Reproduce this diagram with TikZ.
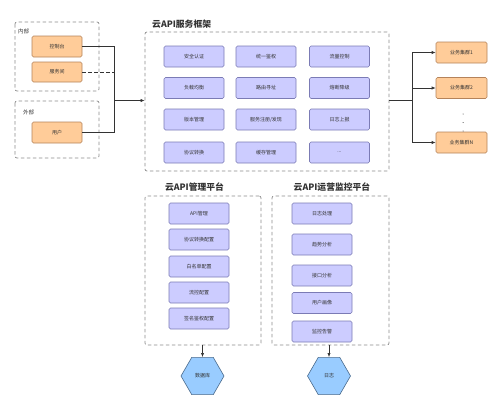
\documentclass[tikz,border=0pt]{standalone}
\usepackage{fontspec}
\setmainfont{Noto Sans CJK SC}
\usetikzlibrary{arrows.meta,shapes.geometric}
\definecolor{orfill}{HTML}{FFCC99}
\definecolor{ordraw}{HTML}{B5835A}
\definecolor{pufill}{HTML}{CCCCFF}
\definecolor{pudraw}{HTML}{7B7BB5}
\definecolor{hxfill}{HTML}{99CCFF}
\definecolor{hxdraw}{HTML}{4A6A8C}
\definecolor{grp}{HTML}{8C8C8C}
\definecolor{txt}{HTML}{333333}
\newcommand\mydotstext{...}
\begin{document}
\begin{tikzpicture}[x=1pt,y=-1pt,
  orbox/.style={draw=ordraw,fill=orfill,rounded corners=1.5pt,line width=0.6pt,minimum width=50pt,minimum height=21pt,inner sep=0pt,font=\fontsize{5}{6}\selectfont,text=txt},
  pubox/.style={draw=pudraw,fill=pufill,rounded corners=1.5pt,line width=0.6pt,minimum width=60pt,minimum height=21pt,inner sep=0pt,font=\fontsize{5}{6}\selectfont,text=txt},
  hexa/.style={regular polygon,regular polygon sides=6,draw=hxdraw,fill=hxfill,line width=0.6pt,minimum size=43pt,inner sep=0pt,font=\fontsize{5}{6}\selectfont,text=txt},
  grpbox/.style={draw=grp,dashed,dash pattern=on 3.5pt off 2.5pt,rounded corners=2pt,line width=0.7pt},
  grplabel/.style={font=\fontsize{5.5}{6.5}\selectfont,text=txt,inner sep=0pt},
  title/.style={font=\fontsize{8.8}{10}\selectfont\bfseries,text=txt,inner sep=0pt},
  conn/.style={draw=txt,line width=0.6pt},
  arr/.style={conn,-{Latex[length=4pt,width=3.2pt]}}
]
\useasboundingbox (0,0) rectangle (500,407);
% left groups
\draw[grpbox] (15,22) rectangle (99,91);
\node[grplabel,anchor=west] (lin) at (18,31) {内部};
\draw[grpbox] (15,101) rectangle (99,158);
\node[grplabel,anchor=west] (lout) at (23,112) {外部};
\node[orbox] (kzt) at (57,46.5) {控制台};
\node[orbox,minimum height=20pt] (fwj) at (57,72) {服务间};
\node[orbox] (yh) at (57,132.5) {用户};
% main framework
\node[title,anchor=west] (t1) at (152,24) {云API服务框架};
\node[grpbox,minimum width=244pt,minimum height=139pt,inner sep=0pt] (fw) at (267,101.5) {};
\foreach \n/\t/\x/\y in {a1/安全认证/194/56.5, a2/统一鉴权/266/56.5, a3/流量控制/339.5/56.5,
  b1/负载均衡/194/88, b2/路由寻址/266/88, b3/熔断降级/339.5/88,
  c1/版本管理/194/119.5, c2/服务注册\slash 发现/266/119.5, c3/日志上报/339.5/119.5,
  d1/协议转换/194/152.5, d2/缓存管理/266/152.5, d3/\mydotstext/339.5/152.5}
  \node[pubox] (\n) at (\x,\y) {\t};
% right clusters
\node[orbox,minimum width=51pt] (s1) at (461.5,52.5) {业务集群1};
\node[orbox,minimum width=51pt] (s2) at (461.5,88) {业务集群2};
\node[orbox,minimum width=51pt] (sn) at (461.5,142.5) {业务集群N};
\fill[txt] (463,114) circle (0.5pt) (463,122.5) circle (0.5pt) (463,131) circle (0.5pt);
% management platform
\node[title] (t2) at (194.5,187) {云API管理平台};
\node[grpbox,minimum width=116pt,minimum height=149pt,inner sep=0pt] (mg) at (203,270.5) {};
\foreach \n/\t/\y in {m1/API管理/213.5, m2/协议转换配置/239.5, m3/白名单配置/266.5, m4/流控配置/292.5, m5/签名鉴权配置/318.5}
  \node[pubox] (\n) at (199,\y) {\t};
% monitoring platform
\node[title] (t3) at (332,187) {云API运营监控平台};
\node[grpbox,minimum width=117pt,minimum height=149pt,inner sep=0pt] (mo) at (330.5,270.5) {};
\foreach \n/\t/\y in {o1/日志处理/213.5, o2/趋势分析/244.5, o3/接口分析/275.5, o4/用户画像/303, o5/监控告警/331.5}
  \node[pubox] (\n) at (322,\y) {\t};
% hexagons
\node[hexa] (db) at (202.5,376) {数据库};
\node[hexa] (lg) at (329,376) {日志};
% connectors left
\coordinate (jl) at (114,100.5);
\draw[conn] (kzt.east) -- (kzt.east -| jl) -- (jl);
\draw[conn,dashed,dash pattern=on 3.5pt off 2.5pt] (fwj.east) -- (fwj.east -| jl);
\draw[conn] (yh.east) -- (yh.east -| jl) -- (jl);
\draw[arr] (jl) -- (fw.west |- jl);
% connectors right
\coordinate (jr) at (412,100.5);
\draw[conn] (fw.east |- jr) -- (jr);
\draw[arr] (jr) |- (s1.west);
\draw[arr] (jr) |- (s2.west);
\draw[arr] (jr) |- (sn.west);
% bottom
\draw[arr] (db.north |- mg.south) -- (db.north);
\draw[arr] (lg.north |- mo.south) -- (lg.north);
\end{tikzpicture}
\end{document}
